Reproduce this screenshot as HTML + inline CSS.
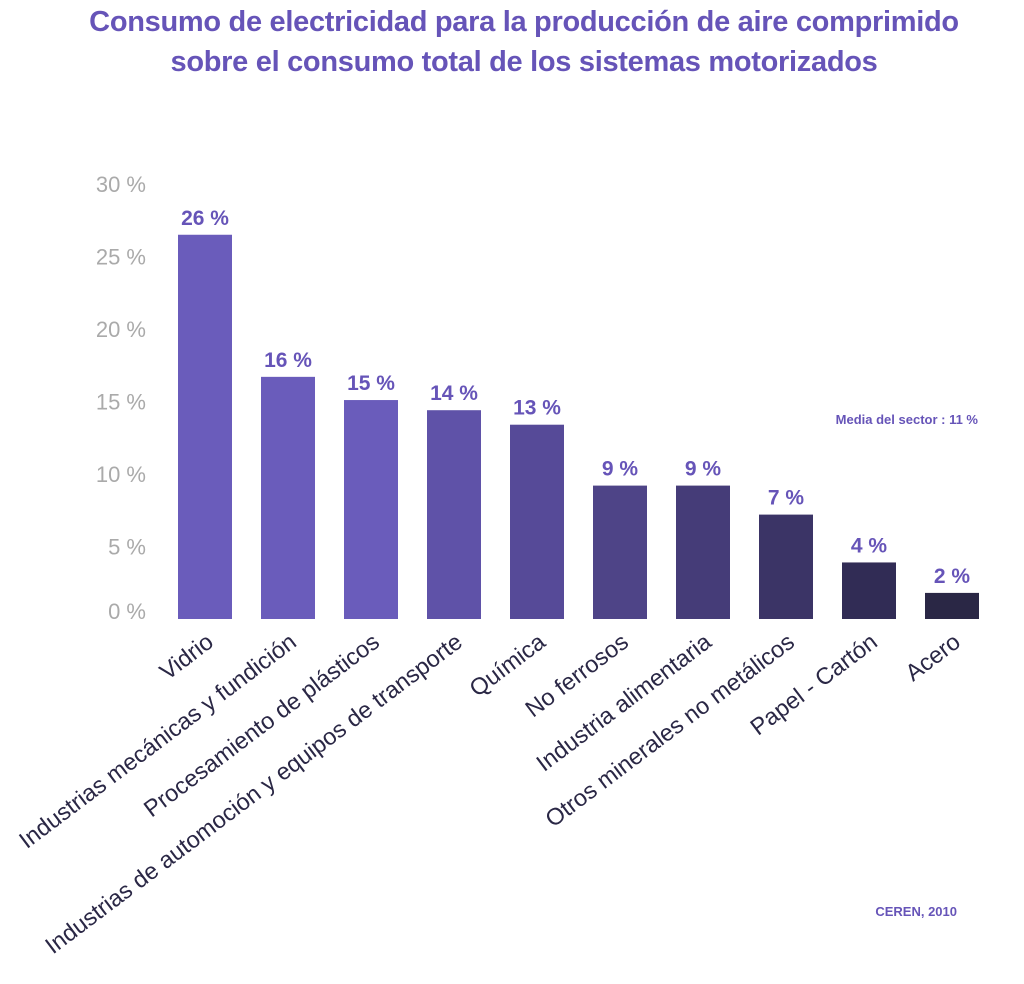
<!DOCTYPE html>
<html><head><meta charset="utf-8"><style>
body{margin:0;background:#fff;width:1024px;height:984px;overflow:hidden;font-family:"Liberation Sans",sans-serif}
#t{position:absolute;top:2px;left:0;width:1048px;text-align:center;color:#6654b8;font-weight:bold;font-size:29px;line-height:40px;letter-spacing:-0.3px}
svg{position:absolute;left:0;top:0}
</style></head><body>
<div id="t">Consumo de electricidad para la producción de aire comprimido<br>sobre el consumo total de los sistemas motorizados</div>
<svg id="c" width="1024" height="984">
<text x="978" y="424" text-anchor="end" font-size="13" font-weight="bold" fill="#6654b8">Media del sector : 11 %</text>
<text x="957" y="916" text-anchor="end" font-size="13" font-weight="bold" fill="#6654b8">CEREN, 2010</text>
</svg>
<script>
const categories=["Vidrio","Industrias mecánicas y fundición","Procesamiento de plásticos","Industrias de automoción y equipos de transporte","Química","No ferrosos","Industria alimentaria","Otros minerales no metálicos","Papel - Cartón","Acero"];
const values=[26.5,16.7,15.1,14.4,13.4,9.2,9.2,7.2,3.9,1.8];
const valueLabels=["26 %","16 %","15 %","14 %","13 %","9 %","9 %","7 %","4 %","2 %"];
const ticks=[0,5,10,15,20,25,30];
const colors=["#6a5cbb","#6a5cbb","#6a5cbb","#5f52a8","#564a98","#4e4487","#453c78","#3b3466","#312c55","#2a2745"];
const NS="http://www.w3.org/2000/svg";
const svg=document.getElementById('c');
const y0=619,pxPer=14.5;
const y=v=>y0-v*pxPer;
const xc=i=>205+i*83;
function mk(t,a){const e=document.createElementNS(NS,t);for(const k in a)e.setAttribute(k,a[k]);svg.appendChild(e);return e;}
ticks.forEach(t=>{
 const e=mk('text',{x:146,y:y(t)+8-(t===0?8:0),'text-anchor':'end','font-size':22,fill:'#aaa'});
 e.textContent=t+' %';
 
 
});
values.forEach((v,i)=>{
 const r=mk('rect',{x:xc(i)-27,y:y(v),width:54,height:v*pxPer,fill:colors[i]});
 
 
 const l=mk('text',{x:xc(i),y:y(v)-10,'text-anchor':'middle','font-size':21,'font-weight':'bold',fill:'#6654b8'});
 l.textContent=valueLabels[i];
 
 
 const c=mk('text',{x:0,y:0,'text-anchor':'end','font-size':23.5,fill:'#2a2745',transform:`translate(${xc(i)+10},${645}) rotate(-37)`});
 c.textContent=categories[i];
 
 
});
</script>
</body></html>
